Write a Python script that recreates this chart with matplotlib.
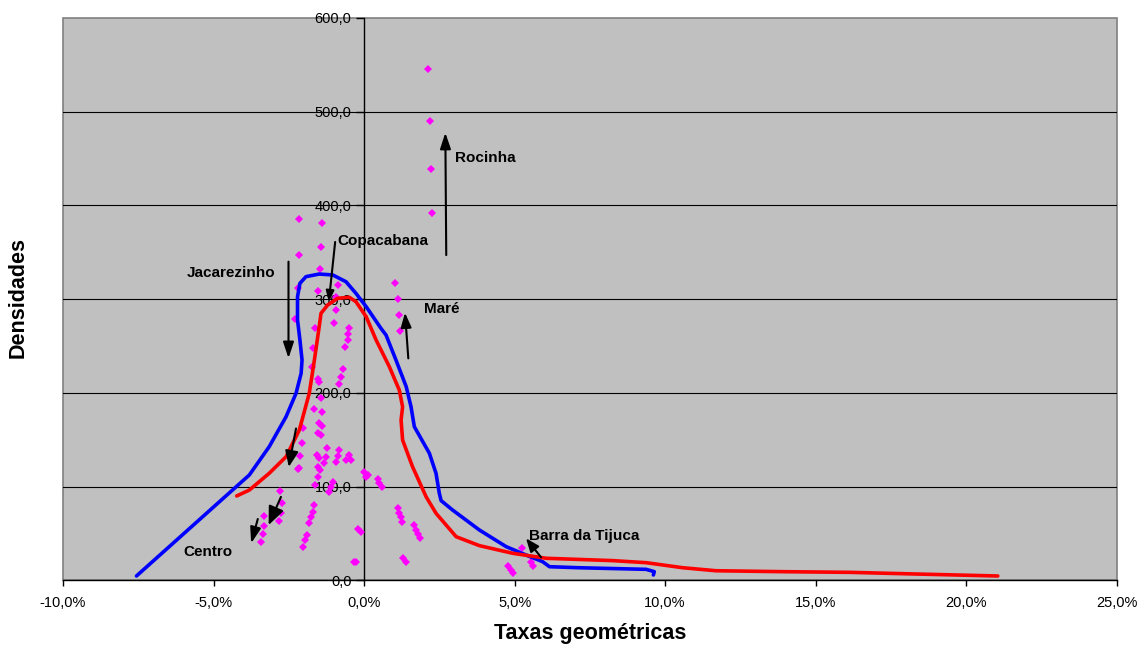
import numpy as np
import matplotlib.pyplot as plt
from matplotlib.ticker import FuncFormatter, MultipleLocator
from matplotlib.patches import Rectangle

plt.rcParams['font.family'] = ['Liberation Sans', 'DejaVu Sans']

# blue curve (growth rate %, density)
blue_x = [-7.56, -3.81, -3.15, -2.59, -2.26, -2.09, -2.06, -2.13, -2.21, -2.21, -2.13,
          -1.93, -1.49, -1.04, -0.60, -0.27, 0.07, 0.56, 0.73, 1.06, 1.40, 1.56, 1.67,
          2.17, 2.39, 2.50, 2.56, 2.94, 3.83, 4.72, 5.38, 5.93, 6.16, 7.15, 9.37, 9.64,
          9.61]
blue_y = [4.6, 112.4, 142.6, 174.6, 199.5, 220.9, 235, 256.4, 277.7, 302.6, 316.9,
          324, 326.8, 325.8, 318.6, 306.2, 292, 268.9, 261.7, 235, 206.6, 185.2, 163.9,
          135.5, 114.2, 92.8, 85, 75, 53.7, 35.9, 27, 19.9, 14.5, 13.4, 11.7, 9.2,
          5.7]

# red curve
red_x = [-4.23, -3.81, -3.15, -2.59, -2.15, -1.82, -1.65, -1.49, -1.43, -1.21, -0.88,
         -0.49, -0.27, 0.07, 0.40, 0.84, 1.17, 1.28, 1.23, 1.28, 1.61, 2.06, 2.39, 3.06,
         3.83, 4.94, 6.05, 8.26, 9.37, 10.59, 11.69, 13.91, 16.12, 18.34, 21.05]
red_y = [90, 96.3, 114.2, 131.9, 160.4, 199.5, 235, 270.6, 284.9, 293.7, 300.9,
         302, 297.3, 281.3, 256.4, 227.9, 203, 185.2, 171, 149.7, 121.2, 89.2, 71.5, 46.5,
         37, 28.8, 23.5, 21, 18.8, 13.4, 10.2, 9.2, 8.5, 6.7, 4.6]

# neighbourhood points
pts_x = [2.11, 2.19, 2.23, 2.26, 1.04, 1.12, 1.15, 1.18,
         -2.15, -1.41, -1.42, -2.16, -1.47, -2.2, -1.54, -0.88, -0.93, -0.93, -1.01,
         -0.49, -0.52, -0.54, -0.62, -1.64, -1.68, -2.28, -0.71, -0.76, -1.73, -1.54,
         -1.49, -0.82, -1.43, -1.65, -1.40, -1.51, -1.40, -2.02, -1.54, -1.43, -2.06,
         -1.24, -1.57, -1.49, -1.26, -2.12, -1.32, -1.54, -1.46, -2.17, -0.82, -0.88,
         -0.93, -0.60, -0.49, -0.43, -1.52, -1.15, -1.10, -1.04, -1.62, 0.01, 0.12,
         0.07, 0.45, 0.51, 0.60, -2.78, -2.72, -2.76, -2.81, -3.31, -3.34, -3.37,
         -3.42, -1.65, -1.71, -1.76, -1.82, -1.91, -1.95, -2.02, -0.21, -0.10, -0.32,
         -0.27, 1.12, 1.17, 1.23, 1.26, 1.67, 1.73, 1.78, 1.86, 1.28, 1.40, 4.77,
         4.88, 4.96, 5.25, 5.55, 5.60, -2.2]
pts_y = [546, 490, 438.5, 391.6, 317, 300, 282.7, 266,
         386, 381.6, 355.6, 347, 331.8, 311.5, 308.7, 315, 302.6, 288.4, 275,
         269.5, 262.5, 256.4, 249.3, 268.9, 247.5, 278.8, 225.5, 217, 228, 214.5,
         212, 209.5, 194, 182.5, 180, 167.5, 165, 162.8, 156.8, 155, 147,
         141.5, 133.7, 130, 131.9, 132.6, 124.8, 120.6, 117.7, 119.5, 139, 132.6,
         126.6, 128.4, 133.7, 128.4, 110.5, 94.5, 99.9, 105, 101.7, 115.9, 112.4,
         110, 107.8, 104.1, 99.2, 95.3, 82.2, 71.5, 63.3, 68.6, 57.9, 49.4,
         41.2, 80.3, 73.2, 67.2, 61.5, 48.3, 43, 35.9, 54.4, 51.9, 19.9,
         19.9, 76.8, 71.5, 67.2, 62.5, 59, 53.7, 49.4, 44.8, 23.5, 19.9, 15.3,
         11, 7.5, 34.1, 19.9, 15.3, 118.8]

# labels and arrows: (text, text pos), (tail, head)
labels = [('Rocinha', 3.03, 450.5, 'left'),
          ('Maré', 2.0, 289.6, 'left'),
          ('Copacabana', -0.89, 362, 'left'),
          ('Jacarezinho', -2.94, 328, 'right'),
          ('Centro', -5.2, 30.5, 'center'),
          ('Barra da Tijuca', 5.49, 47, 'left')]
arrows = [((2.73, 347), (2.70, 477.6), 0.6, 0.2),
          ((1.47, 236.8), (1.36, 285.5), 0.55, 0.2),
          ((-0.96, 361), (-1.17, 297.3), 0.4, 0.15),
          ((-2.51, 340), (-2.51, 237), 0.6, 0.2),
          ((-2.26, 162), (-2.5, 121), 0.6, 0.25),
          ((-2.76, 89), (-3.17, 59), 0.7, 0.3),
          ((-3.53, 65.4), (-3.75, 39.5), 0.6, 0.2),
          ((5.88, 24.5), (5.38, 44.8), 0.5, 0.2)]


def pct(v, pos):
    return ('%.1f%%' % v).replace('.', ',')


def dens(v, pos):
    return ('%.1f' % v).replace('.', ',')


fig = plt.figure(figsize=(11.45, 6.46), dpi=100)
ax = fig.add_axes([63 / 1145, 1 - 580.3 / 646, (1116.7 - 63) / 1145, (580.3 - 18) / 646])
ax.set_facecolor('#C0C0C0')

ax.set_xlim(-10, 25)
ax.set_ylim(0, 600)
ax.xaxis.set_major_locator(MultipleLocator(5))
ax.yaxis.set_major_locator(MultipleLocator(100))
ax.xaxis.set_major_formatter(FuncFormatter(pct))
ax.yaxis.set_major_formatter(FuncFormatter(dens))

for v in range(100, 600, 100):
    ax.axhline(v, color='black', lw=0.8, zorder=1)

ax.spines['left'].set_position(('data', 0))
ax.spines['left'].set_zorder(1.5)
ax.spines['right'].set_visible(False)
ax.spines['top'].set_visible(False)
ax.spines['bottom'].set_linewidth(1.0)
ax.spines['left'].set_linewidth(1.0)
ax.add_patch(Rectangle((0, 0), 1, 1, transform=ax.transAxes, fill=False,
                       edgecolor='#808080', lw=1.2, zorder=0.5, clip_on=False))

ax.tick_params(axis='x', length=4, width=1, pad=7, labelsize=10.5)
ax.tick_params(axis='y', length=6, width=1, pad=3, labelsize=10.5)

ax.plot(pts_x, pts_y, 'D', color='#FF00FF', markersize=4, markeredgewidth=0, zorder=2)
ax.plot(blue_x, blue_y, color='#0000FF', lw=2.6, zorder=3, solid_joinstyle='round',
        solid_capstyle='round')
ax.plot(red_x, red_y, color='#FF0000', lw=2.6, zorder=4, solid_joinstyle='round',
        solid_capstyle='round')

for tail, head, hl, hw in arrows:
    ax.annotate('', xy=head, xytext=tail,
                arrowprops=dict(arrowstyle='-|>,head_length=%s,head_width=%s' % (hl, hw),
                                color='black', lw=1.5, mutation_scale=16,
                                shrinkA=0, shrinkB=0), zorder=5)

for txt, x, y, ha in labels:
    ax.text(x, y, txt, ha=ha, va='center', fontsize=11, fontweight='bold', zorder=6)

fig.text(590 / 1145, 1 - 633 / 646, 'Taxas geométricas', ha='center', va='center',
         fontsize=15.5, fontweight='bold')
fig.text(18 / 1145, 1 - 297 / 646, 'Densidades', ha='center', va='center',
         rotation=90, fontsize=15.5, fontweight='bold')

fig.savefig('out.png', dpi=100)
